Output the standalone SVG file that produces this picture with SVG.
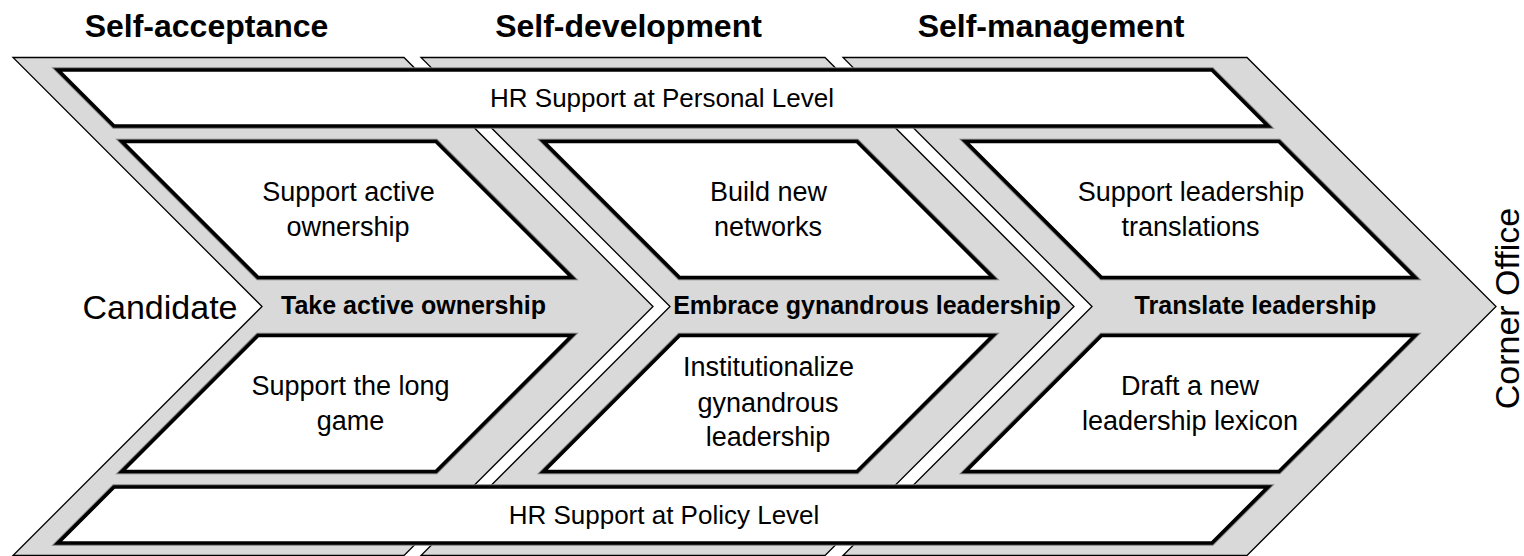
<svg xmlns="http://www.w3.org/2000/svg" width="1524" height="556" viewBox="0 0 1524 556">
<style>
.chev{fill:#d9d9d9;stroke:#000;stroke-width:1.3;stroke-linejoin:miter}
.rim{fill:none;stroke:#7f7f7f;stroke-width:5.5;stroke-linejoin:miter}
.box{fill:#fff;stroke:#000;stroke-width:3.6;stroke-linejoin:miter}
text{font-family:"Liberation Sans",Arial,sans-serif;fill:#000;text-anchor:middle}
.hdr{font-size:32px;font-weight:bold}
.hr{font-size:26px}
.t{font-size:27px}
.lbl{font-size:25px;font-weight:bold}
.end{font-size:34px}
</style>
<rect width="1524" height="556" fill="#fff"/>

<g id="headers">
<text class="hdr" x="206.5" y="37">Self-acceptance</text>
<text class="hdr" x="628.5" y="37">Self-development</text>
<text class="hdr" x="1051" y="37">Self-management</text>
</g>

<g id="stage-self-acceptance">
<polygon class="chev" points="13,57.5 404,57.5 653,306.5 404,555.5 13,555.5 262,306.5"/>
<text class="lbl" x="413.5" y="314">Take active ownership</text>
</g>
<g id="stage-self-development">
<polygon class="chev" points="421,57.5 825,57.5 1074,306.5 825,555.5 421,555.5 670,306.5"/>
<text class="lbl" x="867" y="314">Embrace gynandrous leadership</text>
</g>
<g id="stage-self-management">
<polygon class="chev" points="843,57.5 1247,57.5 1496,306.5 1247,555.5 843,555.5 1092,306.5"/>
<text class="lbl" x="1255.5" y="314">Translate leadership</text>
</g>

<g id="hr-personal">
<polygon class="rim" points="58,70 1212,70 1268,126 114,126"/>
<polygon class="box" points="58,70 1212,70 1268,126 114,126"/>
<text class="hr" x="662" y="107">HR Support at Personal Level</text>
</g>
<g id="hr-policy">
<polygon class="rim" points="114,487 1268,487 1212,543 58,543"/>
<polygon class="box" points="114,487 1268,487 1212,543 58,543"/>
<text class="hr" x="664" y="524">HR Support at Policy Level</text>
</g>

<g id="support-active-ownership">
<polygon class="rim" points="122,141.5 436,141.5 572,277.5 258,277.5"/>
<polygon class="box" points="122,141.5 436,141.5 572,277.5 258,277.5"/>
<text class="t" x="348.5" y="201">Support active</text>
<text class="t" x="348" y="236">ownership</text>
</g>
<g id="support-long-game">
<polygon class="rim" points="258,335.5 572,335.5 436,471.5 122,471.5"/>
<polygon class="box" points="258,335.5 572,335.5 436,471.5 122,471.5"/>
<text class="t" x="350.5" y="395">Support the long</text>
<text class="t" x="350.5" y="430">game</text>
</g>

<g id="build-new-networks">
<polygon class="rim" points="543.5,141.5 857,141.5 993,277.5 679.5,277.5"/>
<polygon class="box" points="543.5,141.5 857,141.5 993,277.5 679.5,277.5"/>
<text class="t" x="768.5" y="201">Build new</text>
<text class="t" x="768" y="236">networks</text>
</g>
<g id="institutionalize">
<polygon class="rim" points="679.5,335.5 993,335.5 857,471.5 543.5,471.5"/>
<polygon class="box" points="679.5,335.5 993,335.5 857,471.5 543.5,471.5"/>
<text class="t" x="768.5" y="376">Institutionalize</text>
<text class="t" x="768" y="412">gynandrous</text>
<text class="t" x="768" y="446">leadership</text>
</g>

<g id="support-leadership-translations">
<polygon class="rim" points="965.5,141.5 1279,141.5 1415,277.5 1101.5,277.5"/>
<polygon class="box" points="965.5,141.5 1279,141.5 1415,277.5 1101.5,277.5"/>
<text class="t" x="1191" y="201">Support leadership</text>
<text class="t" x="1190.5" y="236">translations</text>
</g>
<g id="draft-lexicon">
<polygon class="rim" points="1101.5,335.5 1415,335.5 1279,471.5 965.5,471.5"/>
<polygon class="box" points="1101.5,335.5 1415,335.5 1279,471.5 965.5,471.5"/>
<text class="t" x="1190" y="395">Draft a new</text>
<text class="t" x="1190" y="430">leadership lexicon</text>
</g>

<g id="candidate">
<text class="end" x="160" y="319">Candidate</text>
</g>
<g id="corner-office">
<text class="end" transform="translate(1519,308.5) rotate(-90)">Corner Office</text>
</g>

<g id="connectors"/>
</svg>
